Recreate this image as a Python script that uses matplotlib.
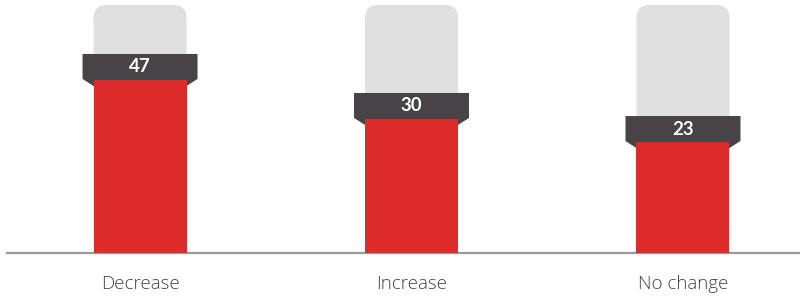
import matplotlib
matplotlib.use("Agg")
import matplotlib.pyplot as plt
from matplotlib.patches import Polygon, FancyBboxPatch
from matplotlib.transforms import IdentityTransform

categories = ["Decrease", "Increase", "No change"]
values = [47, 30, 23]

RED = "#dd2a2a"
GRAY = "#e0e0e0"
DARK = "#484346"
TEXT = "#444444"

W, H = 800, 299
fig = plt.figure(figsize=(W / 100, H / 100), dpi=100)
ax = fig.add_axes([7 / W, 46 / H, 793 / W, 253 / H])
ax.set_yscale("log")
ylo, yhi = 6.41, 118
ax.set_ylim(ylo, yhi)
ax.set_xlim(-0.49, 2.431)
ax.axis("off")

xs = list(range(len(categories)))
bw = 0.3425

# baseline
ax.axhline(ylo, color="#9a9a9a", lw=1.6, zorder=1, clip_on=False)

# red bars
ax.bar(xs, [v - ylo for v in values], bottom=ylo, width=bw, color=RED,
       zorder=4, linewidth=0)

fig.canvas.draw()
T = ax.transData
ident = IdentityTransform()
top_px = T.transform((0, yhi))[1]
base_px = T.transform((0, ylo))[1]
for x, v, cat in zip(xs, values, categories):
    xl = T.transform((x - bw / 2, ylo))[0]
    xr = T.transform((x + bw / 2, ylo))[0]
    vy = T.transform((x, v))[1]
    # gray track with rounded top
    gp = FancyBboxPatch((xl, base_px + 2), xr - xl, (top_px - 5) - (base_px + 2),
                        boxstyle="round,pad=0,rounding_size=13",
                        transform=ident, facecolor=GRAY, edgecolor="none",
                        zorder=2, clip_on=False)
    ax.add_patch(gp)
    # dark label box
    ext = 11
    poly = Polygon([(xl - ext, vy + 26), (xr + ext, vy + 26), (xr + ext, vy + 1),
                    (xr, vy - 6), (xl, vy - 6), (xl - ext, vy + 1)],
                   closed=True, transform=ident, facecolor=DARK,
                   edgecolor="none", zorder=3, clip_on=False)
    ax.add_patch(poly)
    ax.annotate(str(v), (x, v), xytext=(0, 13 * 0.72), textcoords="offset points",
                ha="center", va="center", color="white", fontsize=13.5,
                fontfamily="Lato", fontweight="bold", zorder=6)
    ax.annotate(cat, (x, ylo), xytext=(0, -31 * 0.72), textcoords="offset points",
                ha="center", va="center", color=TEXT, fontsize=13.5,
                fontfamily="Open Sans", fontweight="light", annotation_clip=False)

fig.savefig("out.png", dpi=100)
